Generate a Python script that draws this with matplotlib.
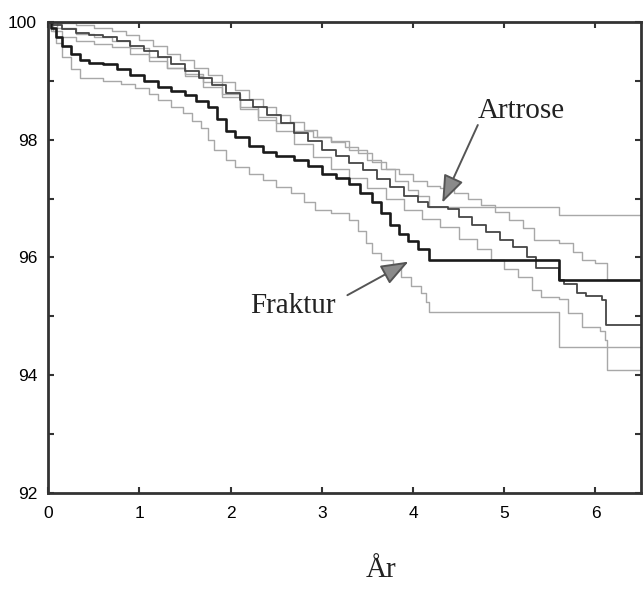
import matplotlib
matplotlib.use("Agg")
import matplotlib.pyplot as plt
from matplotlib.ticker import MultipleLocator

# Kaplan-Meier curves (years, % survival)
artrose_x = [0, 0.05, 0.15, 0.3, 0.45, 0.6, 0.75, 0.9, 1.05, 1.2, 1.35, 1.5, 1.65, 1.8,
             1.95, 2.1, 2.25, 2.4, 2.55, 2.7, 2.85, 3.0, 3.15, 3.3, 3.45, 3.6, 3.75, 3.9,
             4.05, 4.16, 4.38, 4.5, 4.65, 4.8, 4.95, 5.1, 5.25, 5.35, 5.6, 5.66, 5.8,
             5.9, 6.07, 6.12, 6.5]
artrose_y = [100, 99.95, 99.88, 99.82, 99.78, 99.74, 99.68, 99.6, 99.5, 99.4, 99.28,
             99.17, 99.05, 98.93, 98.8, 98.68, 98.55, 98.42, 98.28, 98.12, 97.98, 97.82,
             97.72, 97.6, 97.48, 97.33, 97.2, 97.05, 96.95, 96.85, 96.82, 96.68, 96.55,
             96.43, 96.3, 96.18, 96.0, 95.82, 95.62, 95.55, 95.4, 95.35, 95.28, 94.85,
             94.85]

artrose_hi_x = [0, 0.1, 0.3, 0.5, 0.7, 0.85, 1.0, 1.15, 1.3, 1.45, 1.6, 1.75, 1.9, 2.05,
                2.2, 2.35, 2.5, 2.65, 2.8, 2.95, 3.1, 3.25, 3.4, 3.55, 3.7, 3.85, 4.0,
                4.15, 4.3, 4.45, 4.6, 4.75, 4.9, 5.05, 5.2, 5.33, 5.6, 5.75, 5.85, 6.0,
                6.13, 6.5]
artrose_hi_y = [100, 99.98, 99.95, 99.9, 99.85, 99.78, 99.7, 99.6, 99.45, 99.35, 99.22,
                99.1, 98.98, 98.85, 98.7, 98.55, 98.42, 98.3, 98.17, 98.05, 97.97, 97.88,
                97.78, 97.62, 97.5, 97.42, 97.3, 97.22, 97.18, 97.1, 97.0, 96.9, 96.78,
                96.64, 96.5, 96.3, 96.25, 96.1, 95.96, 95.9, 95.62, 95.62]

artrose_lo_x = [0, 0.1, 0.3, 0.5, 0.7, 0.9, 1.1, 1.3, 1.5, 1.7, 1.9, 2.1, 2.3, 2.5, 2.7,
                2.9, 3.1, 3.3, 3.5, 3.7, 3.9, 4.1, 4.3, 4.5, 4.7, 4.86, 5.0, 5.15, 5.3,
                5.4, 5.6, 5.7, 5.85, 6.05, 6.1, 6.13, 6.5]
artrose_lo_y = [100, 99.9, 99.8, 99.74, 99.68, 99.55, 99.4, 99.22, 99.08, 98.9, 98.72,
                98.52, 98.33, 98.15, 97.92, 97.7, 97.5, 97.35, 97.18, 97.0, 96.8, 96.65,
                96.52, 96.32, 96.15, 95.96, 95.8, 95.67, 95.45, 95.33, 95.3, 95.06, 94.82,
                94.75, 94.6, 94.09, 94.09]

fraktur_x = [0, 0.03, 0.08, 0.15, 0.25, 0.35, 0.45, 0.6, 0.75, 0.9, 1.05, 1.2, 1.35, 1.5,
             1.62, 1.75, 1.85, 1.95, 2.05, 2.2, 2.35, 2.5, 2.7, 2.85, 3.0, 3.15, 3.3,
             3.42, 3.55, 3.65, 3.75, 3.85, 3.95, 4.05, 4.18, 5.6, 6.5]
fraktur_y = [100, 99.9, 99.75, 99.6, 99.45, 99.35, 99.3, 99.28, 99.2, 99.1, 99.0, 98.9,
             98.82, 98.76, 98.65, 98.55, 98.35, 98.15, 98.05, 97.9, 97.8, 97.72, 97.65,
             97.55, 97.42, 97.35, 97.25, 97.1, 96.95, 96.75, 96.55, 96.4, 96.28, 96.15,
             95.96, 95.62, 95.62]

fraktur_hi_x = [0, 0.05, 0.15, 0.3, 0.5, 0.7, 0.9, 1.1, 1.3, 1.5, 1.7, 1.9, 2.1, 2.3,
                2.5, 2.7, 2.9, 3.1, 3.3, 3.5, 3.65, 3.8, 3.95, 4.05, 4.18, 5.6, 6.5]
fraktur_hi_y = [100, 99.85, 99.75, 99.68, 99.62, 99.57, 99.45, 99.33, 99.22, 99.12,
                98.98, 98.78, 98.55, 98.38, 98.28, 98.15, 98.05, 97.98, 97.82, 97.65,
                97.5, 97.3, 97.15, 97.05, 96.85, 96.72, 96.72]

fraktur_lo_x = [0, 0.03, 0.08, 0.15, 0.25, 0.35, 0.6, 0.8, 0.95, 1.1, 1.2, 1.35, 1.48,
                1.58, 1.67, 1.75, 1.82, 1.95, 2.05, 2.2, 2.35, 2.5, 2.66, 2.8, 2.92, 3.1,
                3.3, 3.4, 3.48, 3.55, 3.65, 3.78, 3.87, 3.98, 4.09, 4.14, 4.18, 5.6, 6.5]
fraktur_lo_y = [100, 99.85, 99.64, 99.4, 99.2, 99.05, 99.0, 98.95, 98.88, 98.78, 98.68,
                98.55, 98.45, 98.32, 98.2, 98.0, 97.83, 97.65, 97.54, 97.42, 97.32, 97.2,
                97.1, 96.95, 96.8, 96.75, 96.64, 96.45, 96.25, 96.08, 95.95, 95.82, 95.67,
                95.52, 95.4, 95.25, 95.08, 94.48, 94.48]

fig = plt.figure(figsize=(6.43, 5.94), dpi=100)
ax = fig.add_axes([0.075, 0.17, 0.922, 0.793])

ci = "#a8a8a8"
ax.plot(artrose_hi_x, artrose_hi_y, drawstyle="steps-post", color=ci, lw=1.0)
ax.plot(artrose_lo_x, artrose_lo_y, drawstyle="steps-post", color=ci, lw=1.0)
ax.plot(fraktur_hi_x, fraktur_hi_y, drawstyle="steps-post", color=ci, lw=1.0)
ax.plot(fraktur_lo_x, fraktur_lo_y, drawstyle="steps-post", color=ci, lw=1.0)
ax.plot(artrose_x, artrose_y, drawstyle="steps-post", color="#454545", lw=1.3)
ax.plot(fraktur_x, fraktur_y, drawstyle="steps-post", color="#1a1a1a", lw=1.9)

ax.set_xlim(0, 6.5)
ax.set_ylim(92, 100)
ax.xaxis.set_major_locator(MultipleLocator(1))
ax.yaxis.set_major_locator(MultipleLocator(2))
ax.yaxis.set_minor_locator(MultipleLocator(1))
ax.tick_params(which="both", direction="in", top=True, right=True,
               length=4, width=1.5, color="#333333")
ax.tick_params(axis="y", labelsize=12.5, pad=8)
ax.tick_params(axis="x", labelsize=12.5, pad=9)
for lab in ax.get_xticklabels() + ax.get_yticklabels():
    lab.set_fontfamily("Liberation Sans")
for s in ax.spines.values():
    s.set_linewidth(2)
    s.set_color("#333333")

serif = "Liberation Serif"
arrow = dict(arrowstyle="-|>,head_length=0.85,head_width=0.32", mutation_scale=20,
             lw=1.4, fc="#8a8a8a", ec="#555555", shrinkA=0, shrinkB=0)
ax.text(5.19, 98.37, "Artrose", fontsize=21, family=serif, ha="center",
        va="baseline", color="#222222")
ax.annotate("", xy=(4.32, 96.93), xytext=(4.71, 98.25), arrowprops=arrow)
ax.text(2.68, 95.06, "Fraktur", fontsize=21, family=serif, ha="center",
        va="baseline", color="#222222")
ax.annotate("", xy=(3.95, 95.93), xytext=(3.28, 95.36), arrowprops=arrow)

fig.text(381 / 643, 0.04, "År", fontsize=21, family=serif, ha="center",
         va="center", color="#222222")

plt.savefig("out.png", dpi=100)
